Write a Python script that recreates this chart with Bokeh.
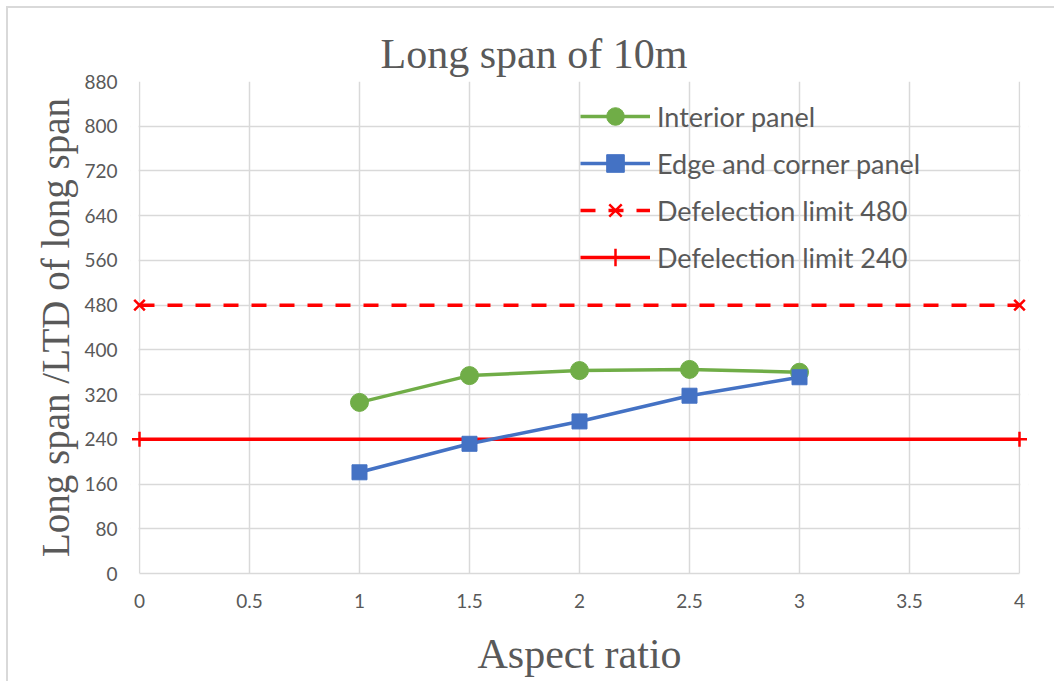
from bokeh.plotting import figure
from bokeh.models import ColumnDataSource, Legend, LegendItem, FixedTicker, Range1d, BoxAnnotation
from bokeh.embed import file_html
from bokeh.resources import INLINE

aspect = [1, 1.5, 2, 2.5, 3]
interior = [306, 354, 363, 365, 360]
edge = [181, 232, 272, 318, 351]
limit_x = [0, 4]
limit480 = [480, 480]
limit240 = [240, 240]
x_ticks = [0, 0.5, 1, 1.5, 2, 2.5, 3, 3.5, 4]
y_ticks = [0, 80, 160, 240, 320, 400, 480, 560, 640, 720, 800, 880]

GRAY = "#595959"
GRID = "#d9d9d9"
GREEN = "#70ad47"
BLUE = "#4472c4"
RED = "#ff0000"

OFF = 8  # chart frame offset (margin + border at top/left)
PAD = 0.0409
p = figure(width=1056 - OFF, height=683 - OFF, output_backend="svg", toolbar_location=None,
           x_range=Range1d(-PAD, 4 + PAD), y_range=Range1d(0, 880),
           min_border_left=130 - OFF, min_border_right=28, min_border_top=81 - OFF,
           min_border_bottom=110)
p.styles = {"margin-left": "6px", "margin-top": "6px",
            "border-left": "2px solid #d9d9d9", "border-top": "2px solid #d9d9d9"}

p.title.text = "Long span of 10m"
p.title.text_font = "Liberation Serif"
p.title.text_font_size = "42px"
p.title.text_font_style = "normal"
p.title.text_color = GRAY
p.title.align = "left"
p.title.offset = 250
p.title.standoff = 10

p.xaxis.ticker = FixedTicker(ticks=x_ticks)
p.yaxis.ticker = FixedTicker(ticks=y_ticks)
p.xaxis.major_label_overrides = {0: "0", 1: "1", 2: "2", 3: "3", 4: "4"}
for ax in (p.xaxis, p.yaxis):
    ax.major_tick_line_color = None
    ax.minor_tick_line_color = None
    ax.major_label_text_font = "Lato"
    ax.major_label_text_font_size = "19px"
    ax.major_label_text_color = GRAY
    ax.axis_label_text_font = "Liberation Serif"
    ax.axis_label_text_font_style = "normal"
    ax.axis_label_text_color = GRAY
p.xaxis.axis_line_color = GRID
p.xaxis.axis_line_width = 1.5
p.xaxis.bounds = (0, 4)
p.yaxis.axis_line_color = None
p.xaxis.major_label_standoff = 14
p.yaxis.major_label_standoff = 7
p.xaxis.axis_label = "Aspect ratio"
p.yaxis.axis_label = "Long span /LTD of long span"
p.xaxis.axis_label_text_font_size = "42px"
p.yaxis.axis_label_text_font_size = "39px"
p.xaxis.axis_label_standoff = 20
p.yaxis.axis_label_standoff = 4

p.xgrid.grid_line_color = GRID
p.ygrid.grid_line_color = GRID
p.xgrid.grid_line_width = 1.5
p.ygrid.grid_line_width = 1.5
p.outline_line_color = None

# white masks over the small padding strips outside 0..4 (below the data marks)
p.add_layout(BoxAnnotation(left=-PAD * 2, right=-0.004, fill_color="white", fill_alpha=1,
                           line_color=None, level="underlay"))
p.add_layout(BoxAnnotation(left=4.004, right=4 + PAD * 2, fill_color="white", fill_alpha=1,
                           line_color=None, level="underlay"))

src_i = ColumnDataSource(dict(x=aspect, y=interior))
src_e = ColumnDataSource(dict(x=aspect, y=edge))
src_480 = ColumnDataSource(dict(x=limit_x, y=limit480))
src_240 = ColumnDataSource(dict(x=limit_x, y=limit240))

l480 = p.line("x", "y", source=src_480, line_color=RED, line_width=3.5, line_dash="15 13")
m480 = p.scatter("x", "y", source=src_480, marker="x", size=15, line_color=RED, line_width=2.5)
l240 = p.line("x", "y", source=src_240, line_color=RED, line_width=3.5)
m240 = p.scatter("x", "y", source=src_240, marker="cross", size=15, line_color=RED, line_width=2.5)

li = p.line("x", "y", source=src_i, line_color=GREEN, line_width=3.5)
mi = p.scatter("x", "y", source=src_i, marker="circle", size=18, fill_color=GREEN, line_color=GREEN)
le = p.line("x", "y", source=src_e, line_color=BLUE, line_width=3.5)
me = p.scatter("x", "y", source=src_e, marker="square", size=15, fill_color=BLUE, line_color=BLUE)

legend = Legend(items=[
    LegendItem(label="Interior panel", renderers=[li, mi]),
    LegendItem(label="Edge and corner panel", renderers=[le, me]),
    LegendItem(label="Defelection limit 480", renderers=[l480, m480]),
    LegendItem(label="Defelection limit 240", renderers=[l240, m240]),
], location=(450, 294))
legend.background_fill_alpha = 0
legend.border_line_color = None
legend.label_text_font = "Lato"
legend.label_text_font_size = "27px"
legend.label_text_color = GRAY
legend.glyph_width = 70
legend.glyph_height = 44
legend.label_height = 44
legend.spacing = 3
legend.label_standoff = 7
legend.padding = 0
legend.margin = 0
p.add_layout(legend)

open("out.html", "w").write(file_html(p, INLINE))
